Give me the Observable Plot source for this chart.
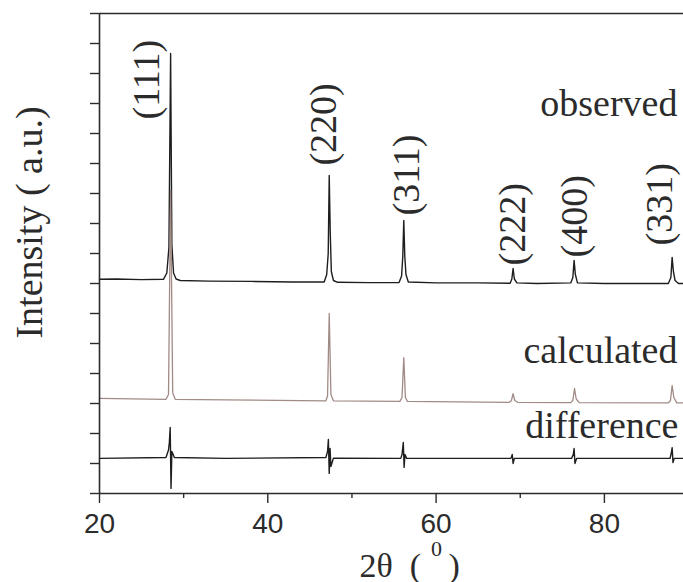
<!DOCTYPE html>
<html>
<head>
<meta charset="utf-8">
<script src="https://cdn.jsdelivr.net/npm/d3@7"></script>
<script src="https://cdn.jsdelivr.net/npm/@observablehq/plot@0.6"></script>
<style>
  html, body { margin: 0; padding: 0; background: #fff; }
  svg text.serif { font-family: "Liberation Serif", "Times New Roman", Times, "DejaVu Serif", serif !important; }
  svg text.sans { font-family: "Liberation Sans", Arial, Helvetica, "DejaVu Sans", sans-serif !important; }
</style>
</head>
<body>
<div id="chart"></div>
<script>
// ---- data ----
const obsX = [20, 22, 25, 27.6, 28.0, 28.25, 28.45, 28.6, 28.8, 29.1, 29.6, 33, 38, 43, 46.7, 47.0, 47.18, 47.3, 47.42, 47.55, 47.8, 48.3, 52, 55.6, 55.9, 56.04, 56.16, 56.28, 56.42, 56.7, 60, 65, 68.8, 69.0, 69.15, 69.3, 69.6, 72, 76.0, 76.25, 76.4, 76.55, 76.8, 80, 84, 87.6, 87.9, 88.05, 88.2, 88.4, 88.8, 89.4];
const obsY = [7.14, 7.15, 7.13, 7.14, 7.35, 8.2, 14.67, 8.3, 7.35, 7.15, 7.1, 7.08, 7.07, 7.05, 7.05, 7.3, 8.0, 10.6, 8.7, 7.4, 7.1, 7.04, 7.03, 7.03, 7.25, 7.9, 9.1, 7.9, 7.3, 7.05, 7.02, 7.02, 7.01, 7.15, 7.5, 7.15, 7.02, 7.0, 7.02, 7.2, 7.77, 7.3, 7.02, 7.0, 7.0, 7.0, 7.2, 7.87, 7.4, 7.1, 7.0, 7.0];

const calcX = [20, 27.9, 28.2, 28.45, 28.7, 29.0, 35, 46.9, 47.1, 47.3, 47.5, 47.8, 55.7, 55.95, 56.16, 56.35, 56.6, 68.7, 68.95, 69.15, 69.35, 69.7, 76.0, 76.25, 76.45, 76.65, 77.0, 87.6, 87.85, 88.05, 88.25, 88.6, 89.4];
const calcY = [3.17, 3.14, 3.3, 10.1, 3.35, 3.14, 3.12, 3.09, 3.25, 6.0, 3.3, 3.09, 3.07, 3.2, 4.53, 3.2, 3.07, 3.04, 3.1, 3.33, 3.1, 3.04, 3.03, 3.1, 3.5, 3.15, 3.03, 3.02, 3.1, 3.6, 3.2, 3.02, 3.02];

const diffX = [20, 27.9, 28.2, 28.3, 28.4, 28.5, 28.6, 28.9, 35, 46.9, 47.1, 47.2, 47.3, 47.4, 47.5, 47.8, 55.8, 55.95, 56.1, 56.2, 56.3, 56.5, 68.9, 69.05, 69.15, 69.3, 76.1, 76.3, 76.4, 76.5, 76.7, 87.8, 87.95, 88.05, 88.15, 88.3, 89.4];
const diffY = [1.17, 1.2, 1.45, 1.7, 2.2, 0.17, 1.4, 1.2, 1.17, 1.2, 1.4, 1.8, 0.67, 1.5, 0.9, 1.18, 1.17, 1.3, 1.7, 0.87, 1.3, 1.17, 1.17, 1.3, 1.0, 1.17, 1.17, 1.3, 1.5, 1.0, 1.17, 1.17, 1.35, 1.53, 1.03, 1.17, 1.17];

const hklLabels = ["(111)", "(220)", "(311)", "(222)", "(400)", "(331)"];
const hklX = [25.6, 46.65, 56.5, 69.1, 76.45, 86.55];
const hklY = [12.47, 10.93, 9.27, 7.6, 7.87, 8.27];

const xMajorTicks = [20, 40, 60, 80];
const xMinorTicks = [30, 50, 70];
const yTicks = d3.range(0, 17);

// ---- build tables ----
const obs = obsX.map((x, i) => ({x, y: obsY[i]}));
const calc = calcX.map((x, i) => ({x, y: calcY[i]}));
const diff = diffX.map((x, i) => ({x, y: diffY[i]}));
const hkl = hklLabels.map((t, i) => ({t, x: hklX[i], y: hklY[i]}));

const serif = "Liberation Serif, Times New Roman, Times, DejaVu Serif, serif";
const sans = "Liberation Sans, Arial, Helvetica, DejaVu Sans, sans-serif";
const ink = "#2b2b2b";
const serifText = {fontFamily: serif, fill: ink, ariaLabel: "serif-text"};

const chart = Plot.plot({
  width: 683,
  height: 582,
  marginLeft: 99,
  marginRight: 0,
  marginTop: 13,
  marginBottom: 89,
  style: {background: "#fff", color: ink, fontFamily: sans},
  x: {domain: [20, 89.4]},
  y: {domain: [0, 16]},
  marks: [
    Plot.line(obs, {x: "x", y: "y", stroke: "#1e1e1e", strokeWidth: 1.4}),
    Plot.line(calc, {x: "x", y: "y", stroke: "#a08b86", strokeWidth: 1.3}),
    Plot.line(diff, {x: "x", y: "y", stroke: "#1e1e1e", strokeWidth: 1.4}),
    Plot.ruleY([16], {stroke: ink, strokeWidth: 1.6}),
    Plot.ruleY([0], {stroke: ink, strokeWidth: 1.6}),
    Plot.ruleX([20], {stroke: ink, strokeWidth: 1.6}),
    Plot.axisY({ticks: yTicks, tickSize: 9, tickFormat: () => "", label: null, stroke: ink, strokeWidth: 1.4}),
    Plot.axisX({ticks: xMajorTicks, tickSize: 10, tickPadding: 10, fontSize: 28, fontFamily: sans, label: null, stroke: ink, strokeWidth: 1.4, fill: ink}),
    Plot.axisX({ticks: xMinorTicks, tickSize: 5, tickFormat: () => "", label: null, stroke: ink, strokeWidth: 1.4}),
    Plot.text(hkl, {x: "x", y: "y", text: "t", rotate: -90, textAnchor: "start", lineAnchor: "middle", fontSize: 38, ...serifText}),
    Plot.text(["observed"], {frameAnchor: "top-right", dx: -6, dy: 102, textAnchor: "end", lineAnchor: "bottom", fontSize: 38, ...serifText}),
    Plot.text(["calculated"], {frameAnchor: "top-right", dx: -6, dy: 349, textAnchor: "end", lineAnchor: "bottom", fontSize: 38, ...serifText}),
    Plot.text(["difference"], {frameAnchor: "top-right", dx: -5, dy: 424, textAnchor: "end", lineAnchor: "bottom", fontSize: 38, ...serifText}),
    Plot.text(["Intensity ( a.u.)"], {frameAnchor: "left", dx: -58, dy: -31, rotate: -90, textAnchor: "middle", lineAnchor: "bottom", fontSize: 38, ...serifText}),
    Plot.text(["2\u03b8\u00a0\u00a0("], {frameAnchor: "bottom-left", dx: 260, dy: 83, textAnchor: "start", lineAnchor: "bottom", fontSize: 34, ...serifText}),
    Plot.text([")"], {frameAnchor: "bottom-left", dx: 349, dy: 83, textAnchor: "start", lineAnchor: "bottom", fontSize: 34, ...serifText}),
    Plot.text(["0"], {frameAnchor: "bottom-left", dx: 337, dy: 62, textAnchor: "middle", lineAnchor: "bottom", fontSize: 22, ...serifText})
  ]
});
// make sure the font families win over any inherited style
d3.select(chart).selectAll('g[aria-label="serif-text"] text').classed("serif", true);
d3.select(chart).selectAll('g[aria-label="x-axis tick label"] text').classed("sans", true);
document.getElementById("chart").appendChild(chart);
</script>
</body>
</html>
